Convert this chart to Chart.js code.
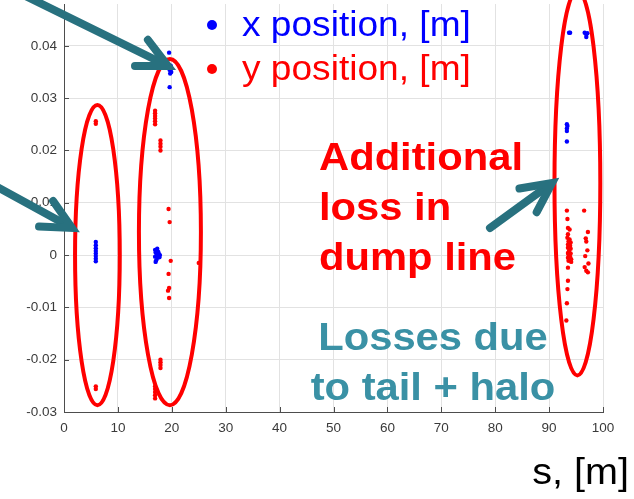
<!DOCTYPE html>
<html>
<head>
<meta charset="utf-8">
<script src="https://cdn.jsdelivr.net/npm/chart.js@4/dist/chart.umd.min.js"></script>
<style>
  html, body { margin: 0; padding: 0; background: #ffffff; }
  canvas { display: block; }
</style>
</head>
<body>
<canvas id="losses" width="634" height="499"></canvas>
<script>
// Loss positions along the beamline: s [m] and transverse offset [m]
const sLossX = [
  5.9, 5.9, 5.9, 5.9, 5.9, 5.9, 5.9, 5.9,
  16.9, 17.0, 17.2, 17.4, 17.1, 16.9, 17.6, 17.8, 17.3, 17.0, 17.5, 17.7,
  19.5, 19.8, 19.6, 19.9, 19.7, 19.6,
  93.7, 93.9, 96.6, 96.9, 97.1, 96.9,
  93.3, 93.4, 93.3, 93.3, 93.3
];
const xPosition = [
  0.0025, 0.0019, 0.0013, 0.0008, 0.0003, -0.0002, -0.0007, -0.0012,
  0.0010, 0.0005, 0.0000, -0.0005, -0.0010, -0.0003, 0.0002, 0.0000, 0.0012, -0.0013, 0.0006, -0.0004,
  0.0387, 0.0362, 0.0354, 0.0350, 0.0347, 0.0321,
  0.0425, 0.0425, 0.0425, 0.0422, 0.0424, 0.0417,
  0.0250, 0.0247, 0.0242, 0.0237, 0.0217
];
const sLossY = [
  5.9, 5.9, 5.9, 5.9,
  16.9, 16.9, 16.9, 16.9, 16.9, 16.9,
  17.9, 17.9, 17.9, 17.9,
  19.4, 19.6, 19.8, 19.4, 19.5, 19.3, 19.5, 25.0,
  17.9, 17.9, 17.9, 17.9,
  16.9, 16.9, 16.9, 16.9, 16.9,
  93.3, 93.4, 93.5, 93.8, 93.5, 93.4, 93.8, 93.6, 94.0, 93.5, 93.9, 93.5, 94.0, 93.7,
  93.5, 94.0, 93.6, 93.9, 93.5, 94.1, 93.6, 94.1, 93.5, 93.5, 93.4, 93.3, 93.2,
  96.5, 97.2, 96.8, 96.9, 97.1, 96.7, 97.3, 96.6, 96.9, 97.2
];
const yPosition = [
  0.0256, 0.0251, -0.0251, -0.0256,
  0.0276, 0.0271, 0.0266, 0.0261, 0.0256, 0.0250,
  0.0219, 0.0213, 0.0207, 0.0200,
  0.0088, 0.0063, -0.0011, -0.0036, -0.0063, -0.0068, -0.0082, -0.0015,
  -0.0200, -0.0205, -0.0210, -0.0216,
  -0.0251, -0.0256, -0.0262, -0.0268, -0.0274,
  0.0085, 0.0069, 0.0052, 0.0049, 0.0040, 0.0033, 0.0030, 0.0026, 0.0024, 0.0020, 0.0018, 0.0014, 0.0012, 0.0008,
  0.0004, 0.0003, 0.0001, -0.0003, -0.0005, -0.0008, -0.0011, -0.0013, -0.0024, -0.0049, -0.0065, -0.0092, -0.0125,
  0.0085, 0.0044, 0.0032, 0.0026, 0.0009, -0.0002, -0.0016, -0.0023, -0.0030, -0.0033
];
const sTicks = [0, 10, 20, 30, 40, 50, 60, 70, 80, 90, 100];
const posTicks = [-0.03, -0.02, -0.01, 0, 0.01, 0.02, 0.03, 0.04];
const legendLabels = ['x position, [m]', 'y position, [m]'];
const xAxisTitle = 's, [m]';
const noteDump = ['Additional', 'loss in', 'dump line'];
const noteHalo = ['Losses due', 'to tail + halo'];

const BLUE = '#0000ff';
const RED = '#ff0000';
const TEAL_ARROW = '#28717f';
const TEAL_TEXT = '#3a91a5';

const toPoints = (s, v) => s.map((si, i) => ({ x: si, y: v[i] }));

// Text with a slight horizontal stretch
function stretchText(ctx, str, x, y, size, color, weight, align, k) {
  ctx.save();
  ctx.font = weight + ' ' + size + 'px "Liberation Sans", Arial, sans-serif';
  ctx.fillStyle = color;
  ctx.textBaseline = 'alphabetic';
  const w = ctx.measureText(str).width * k;
  let x0 = x;
  if (align === 'center') x0 = x - w / 2;
  else if (align === 'right') x0 = x - w;
  ctx.translate(x0, y);
  ctx.scale(k, 1);
  ctx.textAlign = 'left';
  ctx.fillText(str, 0, 0);
  ctx.restore();
}

function openArrow(ctx, x0, y0, x1, y1) {
  const ang = Math.atan2(y1 - y0, x1 - x0);
  const head = 33, spread = 0.46;
  ctx.save();
  ctx.strokeStyle = TEAL_ARROW;
  ctx.lineWidth = 8;
  ctx.lineCap = 'round';
  ctx.lineJoin = 'miter';
  ctx.beginPath();
  ctx.moveTo(x0, y0);
  ctx.lineTo(x1 - 4 * Math.cos(ang), y1 - 4 * Math.sin(ang));
  ctx.stroke();
  ctx.beginPath();
  ctx.moveTo(x1 - head * Math.cos(ang - spread), y1 - head * Math.sin(ang - spread));
  ctx.lineTo(x1, y1);
  ctx.lineTo(x1 - head * Math.cos(ang + spread), y1 - head * Math.sin(ang + spread));
  ctx.stroke();
  ctx.restore();
}

// Inward tick marks on the left and bottom axes
const innerTicks = {
  id: 'innerTicks',
  beforeDatasetsDraw(chart) {
    const { ctx, chartArea: a, scales: { x, y } } = chart;
    ctx.save();
    ctx.strokeStyle = '#4d4d4d';
    ctx.lineWidth = 1;
    ctx.beginPath();
    sTicks.forEach(v => {
      const px = Math.round(x.getPixelForValue(v)) + 0.5;
      ctx.moveTo(px, a.bottom);
      ctx.lineTo(px, a.bottom - 5);
    });
    posTicks.forEach(v => {
      const py = Math.round(y.getPixelForValue(v)) + 0.5;
      ctx.moveTo(a.left, py);
      ctx.lineTo(a.left + 5, py);
    });
    ctx.stroke();
    ctx.restore();
  }
};

// Ellipses, arrows, notes and legend drawn over the plot
const annotations = {
  id: 'annotations',
  afterDraw(chart) {
    const { ctx, scales: { x, y } } = chart;
    const ellipse = (cs, cv, rs, rv) => {
      const cx = x.getPixelForValue(cs), cy = y.getPixelForValue(cv);
      const rx = x.getPixelForValue(cs + rs) - cx;
      const ry = cy - y.getPixelForValue(cv + rv);
      ctx.save();
      ctx.strokeStyle = RED;
      ctx.lineWidth = 4;
      ctx.beginPath();
      ctx.ellipse(cx, cy, rx, ry, 0, 0, Math.PI * 2);
      ctx.stroke();
      ctx.restore();
    };
    ellipse(6.2, 0.0000, 4.15, 0.0287);
    ellipse(19.65, 0.0044, 5.75, 0.0331);
    ellipse(95.25, 0.0138, 4.25, 0.0368);

    openArrow(ctx, -5, -19, 168, 66);
    openArrow(ctx, -10, 183, 72, 228);
    openArrow(ctx, 490, 228, 552, 183);

    noteDump.forEach((t, i) => stretchText(ctx, t, 319, 170 + i * 50, 39, RED, 'bold', 'left', 1.07));
    noteHalo.forEach((t, i) => stretchText(ctx, t, 433, 350 + i * 50, 39, TEAL_TEXT, 'bold', 'center', 1.07));

    const legendColors = [BLUE, RED];
    legendLabels.forEach((t, i) => {
      const by = 25 + i * 44;
      ctx.save();
      ctx.fillStyle = legendColors[i];
      ctx.beginPath();
      ctx.arc(212, by, 5, 0, Math.PI * 2);
      ctx.fill();
      ctx.restore();
      stretchText(ctx, t, 242, 36 + i * 44, 35, legendColors[i], 'normal', 'left', 1.06);
    });

    stretchText(ctx, xAxisTitle, 629, 484, 37, '#000000', 'normal', 'right', 1.07);
  }
};

new Chart(document.getElementById('losses'), {
  type: 'scatter',
  data: {
    datasets: [
      { label: legendLabels[0], data: toPoints(sLossX, xPosition), backgroundColor: BLUE, borderWidth: 0, pointRadius: 2.2 },
      { label: legendLabels[1], data: toPoints(sLossY, yPosition), backgroundColor: RED, borderWidth: 0, pointRadius: 2.2 }
    ]
  },
  options: {
    responsive: false,
    animation: false,
    events: [],
    layout: { padding: { left: 0, right: 31, top: 0, bottom: 0 } },
    plugins: { legend: { display: false }, tooltip: { enabled: false } },
    scales: {
      x: {
        type: 'linear',
        min: 0, max: 100,
        afterBuildTicks: s => { s.ticks = sTicks.map(v => ({ value: v })); },
        afterFit: s => { s.height = 87; },
        grid: { color: '#e2e2e2', drawTicks: false },
        border: { display: true, color: '#4d4d4d', width: 1 },
        ticks: { padding: 8, color: '#3a3a3a', font: { family: '"Liberation Sans", Arial, sans-serif', size: 13.5 }, maxRotation: 0, callback: v => String(v) }
      },
      y: {
        type: 'linear',
        min: -0.03, max: 0.048,
        afterBuildTicks: s => { s.ticks = posTicks.map(v => ({ value: v })); },
        afterFit: s => { s.width = 64; s.paddingTop = 0; s.paddingBottom = 0; },
        grid: { color: '#e2e2e2', drawTicks: false },
        border: { display: true, color: '#4d4d4d', width: 1 },
        ticks: { padding: 7, color: '#3a3a3a', font: { family: '"Liberation Sans", Arial, sans-serif', size: 13.5 }, callback: v => (v === 0 ? '0' : v.toFixed(2)) }
      }
    }
  },
  plugins: [innerTicks, annotations]
});
</script>
</body>
</html>
